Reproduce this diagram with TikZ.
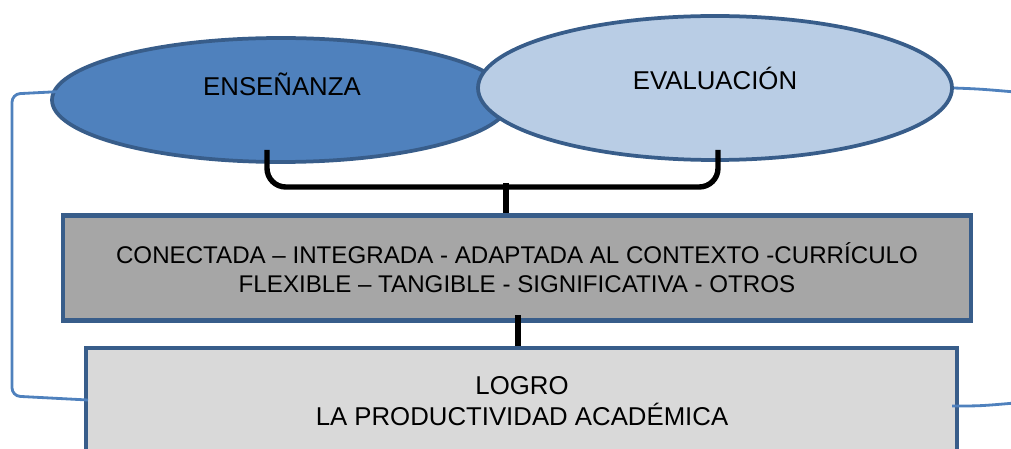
\documentclass[tikz,border=0pt]{standalone}
\usepackage{fontspec}
\setmainfont{Liberation Sans}
\usetikzlibrary{shapes.geometric}
\definecolor{dkblue}{HTML}{385D8A}
\definecolor{medblue}{HTML}{4F81BD}
\definecolor{ltblue}{HTML}{B9CDE5}
\definecolor{midgray}{HTML}{A6A6A6}
\definecolor{ltgray}{HTML}{D9D9D9}
\begin{document}
\begin{tikzpicture}[x=0.3mm,y=-0.3mm,
  oval/.style={ellipse, draw=dkblue, line width=3.2pt, inner sep=0pt},
  box/.style={rectangle, draw=dkblue, line width=3.6pt, inner sep=0pt, align=center},
  lbl/.style={font=\fontsize{22}{24}\selectfont, inner sep=0pt, anchor=base},
  link/.style={draw=medblue, line width=2.4pt, rounded corners=7pt},
  bar/.style={draw=black, line width=4.6pt}]
\useasboundingbox (0,0) rectangle (1011,449);
\clip (0,0) rectangle (1011,449);
% ellipses
\node (ens) [oval, fill=medblue, minimum width=137.4mm, minimum height=37.2mm] at (281,100) {};
\node (eva) [oval, fill=ltblue, minimum width=142.2mm, minimum height=43.2mm] at (715,88) {};
\node (ensT) [lbl] at (282,96) {ENSEÑANZA};
\node (evaT) [lbl] at (715,90) {EVALUACIÓN};
% boxes
\node (mid) [box, fill=midgray, minimum width=272.4mm, minimum height=31.5mm,
  font=\fontsize{20.6}{24.5}\selectfont] at (517,268)
  {CONECTADA – INTEGRADA - ADAPTADA AL CONTEXTO -CURRÍCULO\\FLEXIBLE – TANGIBLE - SIGNIFICATIVA - OTROS};
\node (logro) [box, fill=ltgray, minimum width=261.3mm, minimum height=45mm] at (521.5,423) {};
\node (logroT1) [lbl] at (522,394) {LOGRO};
\node (logroT2) [lbl] at (522,425) {LA PRODUCTIVIDAD ACADÉMICA};
% brace
\coordinate (b1) at (267,150);
\coordinate (b2) at (718,150);
\coordinate (bm) at (506,187);
\draw[bar, rounded corners=16pt] (b1) |- (bm) -| (b2);
\draw[bar] (bm |- 0,183) -- (mid.north -| bm);
\draw[bar] (518,315) -- (logro.north -| 518,0);
% side connectors
\coordinate (ls) at (90,90);
\coordinate (le) at (88,400);
\draw[link] (ls) -- (12,94) -- (12,396) -- (le);
\coordinate (r1) at (1015,92);
\draw[link] (eva.east) .. controls (980,89) .. (r1);
\coordinate (r2e) at (952,406);
\coordinate (r2) at (1015,403);
\draw[link] (r2e) .. controls (980,406) .. (r2);
\end{tikzpicture}
\end{document}
